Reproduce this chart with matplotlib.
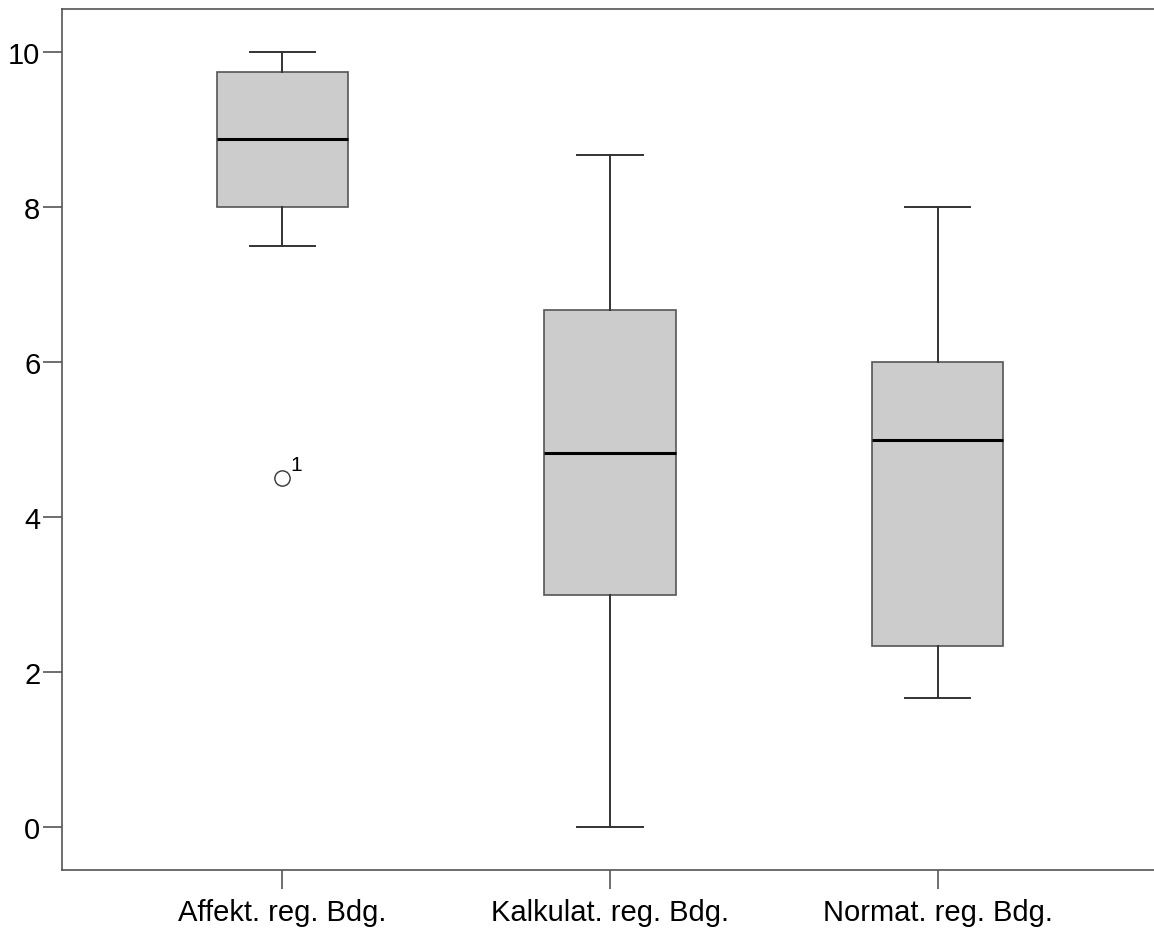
import matplotlib.pyplot as plt

plt.rcParams["font.family"] = ["Liberation Sans", "DejaVu Sans"]

categories = ["Affekt. reg. Bdg.", "Kalkulat. reg. Bdg.", "Normat. reg. Bdg."]
whislo = [7.5, 0.0, 1.67]
q1 = [8.0, 3.0, 2.33]
med = [8.875, 4.83, 5.0]
q3 = [9.75, 6.67, 6.0]
whishi = [10.0, 8.67, 8.0]
outliers = [[4.5], [], []]
outlier_ids = [["1"], [], []]

stats = []
for i, name in enumerate(categories):
    stats.append({
        "label": name, "whislo": whislo[i], "q1": q1[i], "med": med[i],
        "q3": q3[i], "whishi": whishi[i], "fliers": outliers[i],
    })

fig = plt.figure(figsize=(11.54, 9.29), dpi=100)
ax = fig.add_axes([0.0537, 0.0624, 0.9498, 0.9266])

ax.bxp(
    stats, positions=[1, 2, 3], widths=0.4, patch_artist=True,
    boxprops=dict(facecolor="#cccccc", edgecolor="#555555", linewidth=1.2),
    medianprops=dict(color="black", linewidth=2.2),
    whiskerprops=dict(color="#333333", linewidth=1.4),
    capprops=dict(color="#333333", linewidth=1.4),
    capwidths=0.2,
    flierprops=dict(marker="o", markersize=11, markerfacecolor="white",
                    markeredgecolor="#333333", markeredgewidth=1.0),
)

for i, ids in enumerate(outlier_ids):
    for val, lab in zip(outliers[i], ids):
        ax.annotate(lab, (i + 1, val), xytext=(6, 3), textcoords="offset points",
                    fontsize=15, ha="left", va="bottom")

ax.set_xlim(0.327, 3.673)
ax.set_ylim(-0.555, 10.555)
ax.set_yticks([0, 2, 4, 6, 8, 10])
ax.set_xticks([1, 2, 3])
ax.set_xticklabels(categories)
ax.tick_params(axis="both", labelsize=21, length=14, width=1.2, color="#555555")
ax.tick_params(axis="y", pad=1.5)
ax.tick_params(axis="x", pad=6)

for s in ax.spines.values():
    s.set_color("#555555")
    s.set_linewidth(1.2)

fig.savefig("out.png", dpi=100)
